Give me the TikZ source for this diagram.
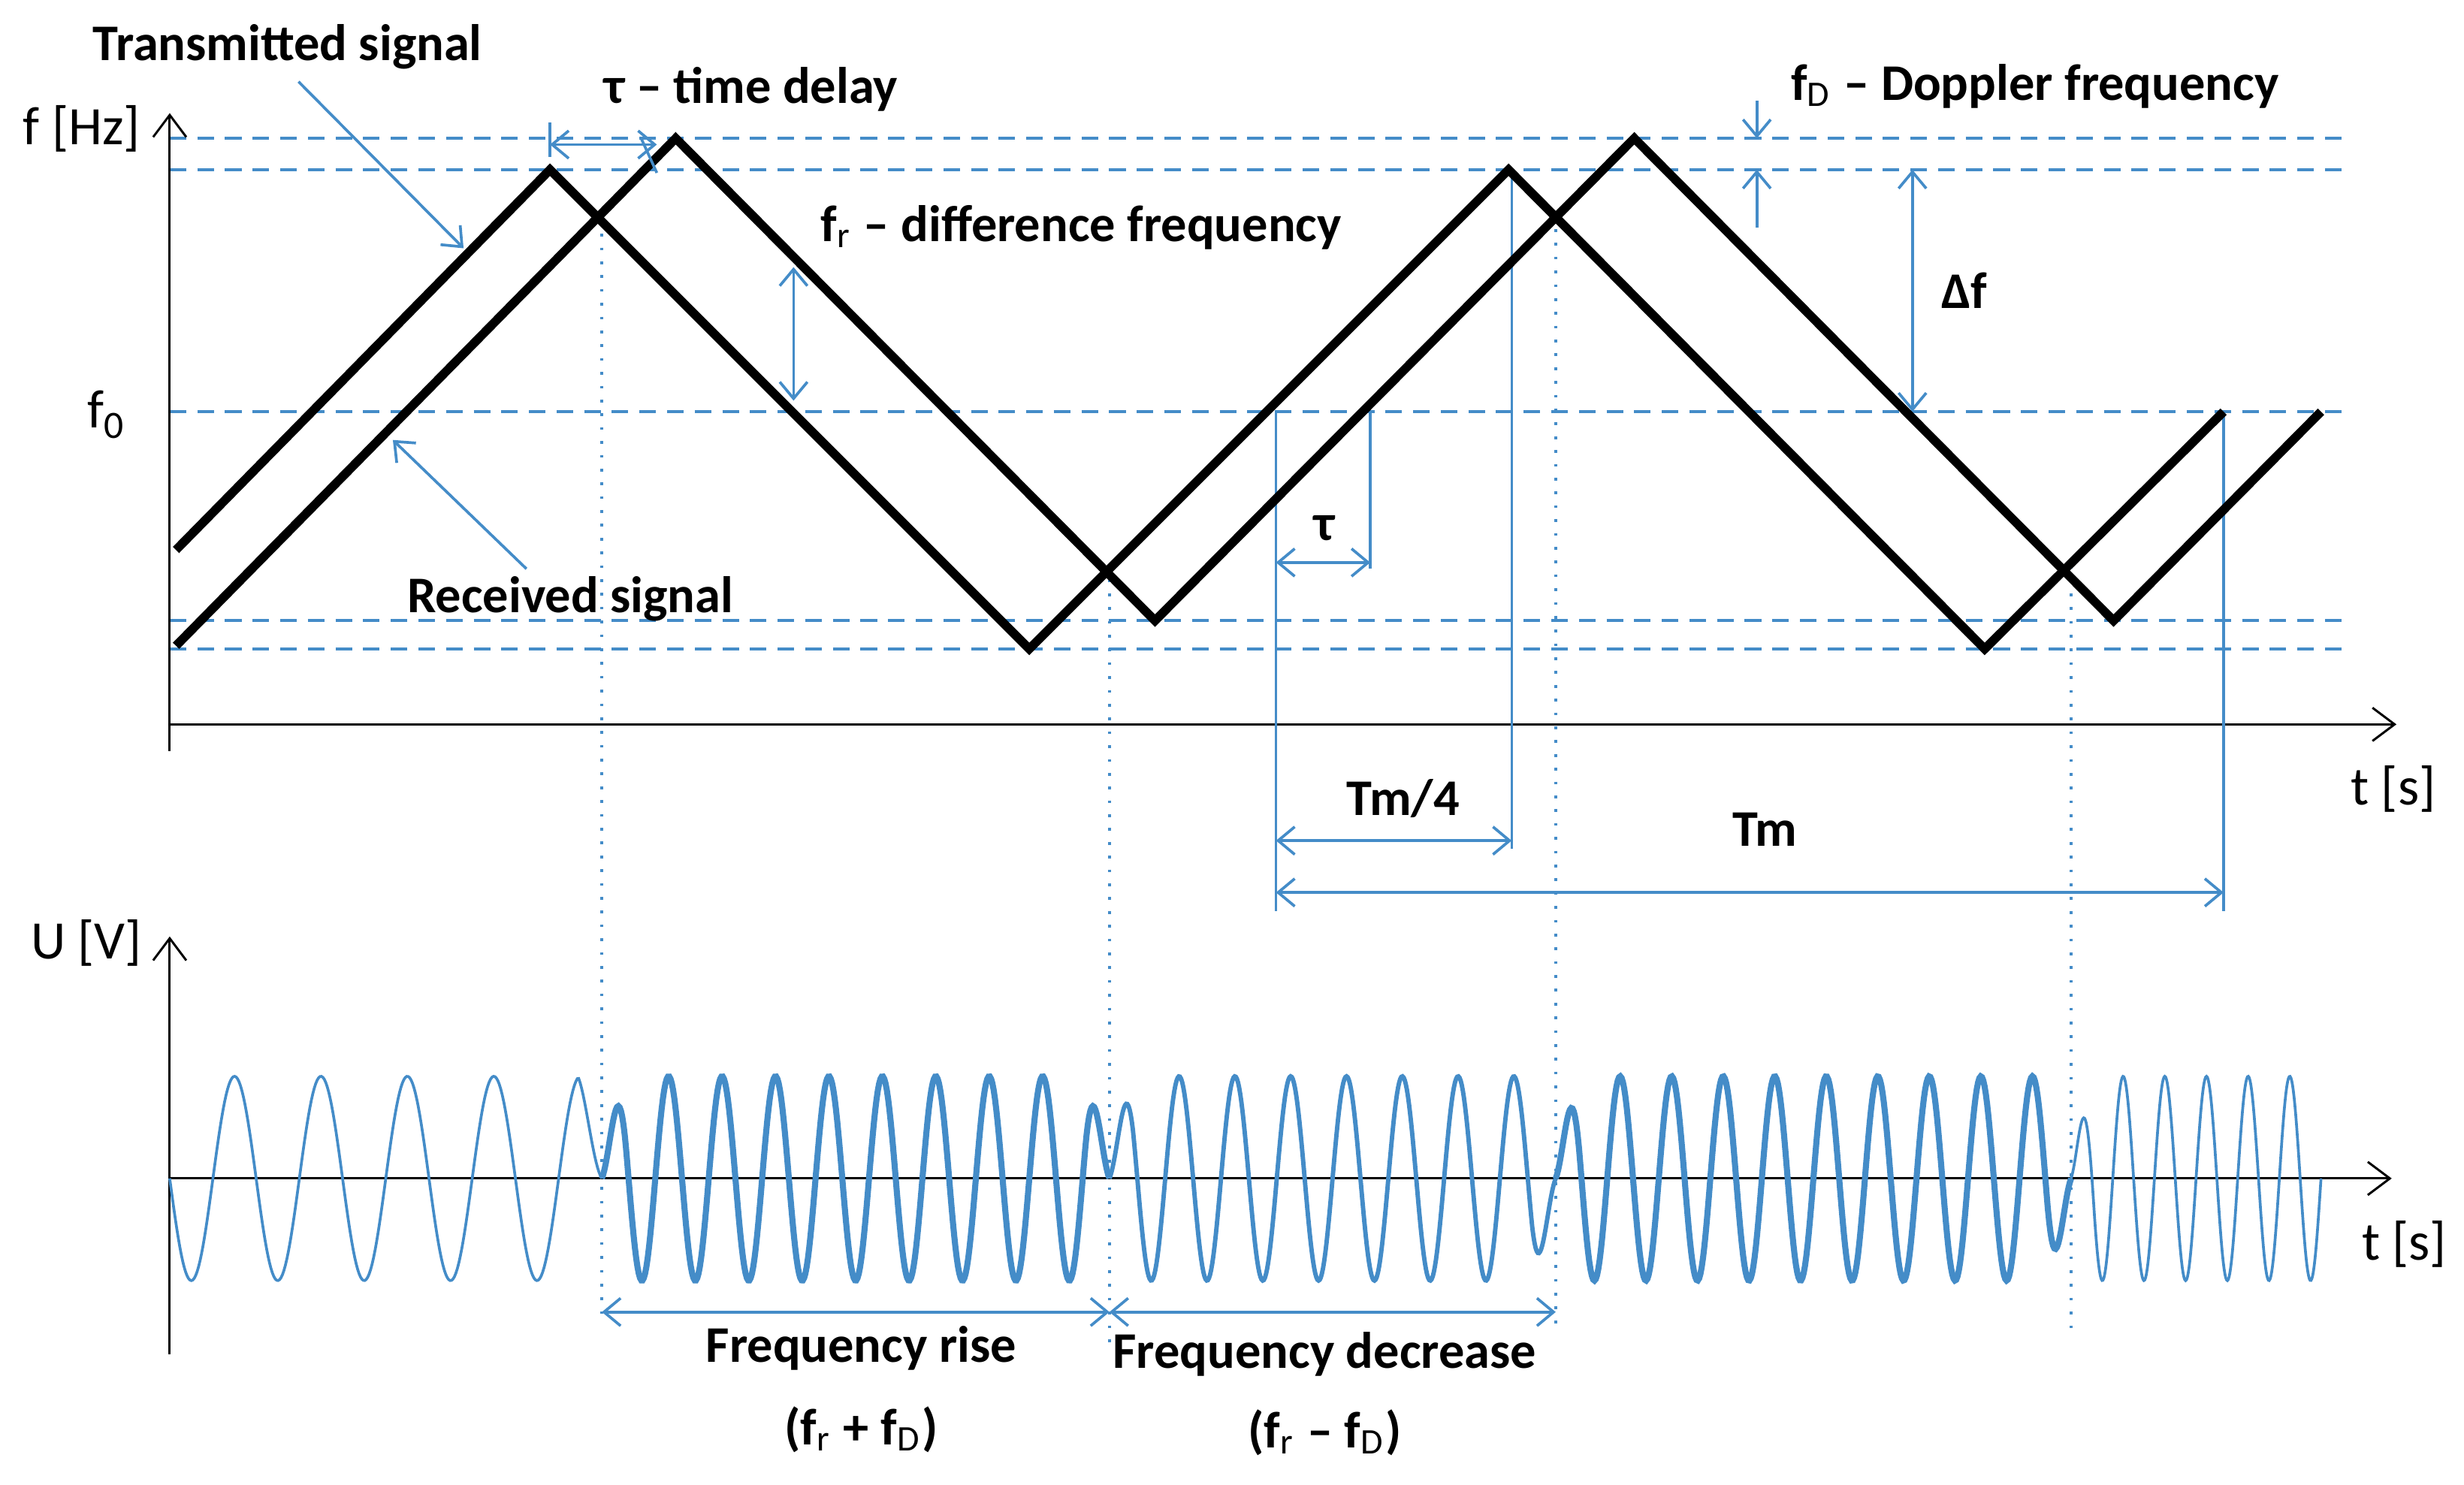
\documentclass[tikz,border=0pt]{standalone}
\usepackage{fontspec}
\setmainfont{Carlito}
\usetikzlibrary{arrows.meta}
\definecolor{bl}{RGB}{68,140,200}
\begin{document}
\begin{tikzpicture}[x=0.01cm,y=-0.01cm,
  lbl/.style={font=\fontsize{9.3}{11}\selectfont\bfseries},
  ax/.style={font=\fontsize{9.8}{11}\selectfont},
  axis/.style={line width=0.4pt,-{Straight Barb[length=4pt,width=6pt]}},
  sig/.style={line width=1.6pt,line join=miter},
  dsh/.style={bl,line width=0.5pt,dash pattern=on 3pt off 2pt},
  dot/.style={bl,dotted,line width=0.5pt},
  vl/.style={bl,line width=0.5pt},
  dim/.style={bl,line width=0.5pt,{Straight Barb[length=3pt,width=5pt]}-{Straight Barb[length=3pt,width=5pt]}},
  one/.style={bl,line width=0.5pt,-{Straight Barb[length=3pt,width=5pt]}},
  wave/.style={bl,line width=0.5pt},
  wavet/.style={bl,line width=1.1pt}]
\useasboundingbox (0,0) rectangle (1568,945);
% dashed levels
\foreach \y in {88,108,262,395,413} \draw[dsh] (108,\y) -- (1490,\y);
% axes
\draw[axis] (108,478) -- (108,72);
\draw[axis] (108,461) -- (1525,461);
\draw[axis] (108,862) -- (108,596);
\draw[axis] (108,750) -- (1522,750);
\node[ax] (fhz) at (52,82) {f [Hz]};
\node[ax] (f0) at (67,264) {f\raisebox{-0.4ex}{\scriptsize 0}};
\node[ax] (t1) at (1523,502) {t [s]};
\node[ax] (uv) at (55,600) {U [V]};
\node[ax] (t2) at (1530,792) {t [s]};
% vertical helper lines
\draw[dot] (383,140) -- (383,838);
\draw[dot] (706,360) -- (706,860);
\draw[dot] (990,137) -- (990,845);
\draw[dot] (1318,360) -- (1318,850);
\draw[vl] (812,262) -- (812,580);
\draw[vl] (872,262) -- (872,362);
\draw[vl] (962,108) -- (962,540);
\draw[vl] (1415,262) -- (1415,580);
% signals
\draw[sig] (112,350) -- (350,108) -- (655,413) -- (960,108) -- (1263,413) -- (1415,262);
\draw[sig] (112,411) -- (430,88) -- (735,395) -- (1040,88) -- (1345,395) -- (1477,262);
% labels and arrows
\node[lbl] (tx) at (183,30) {Transmitted signal};
\coordinate (txa) at (190,52); \coordinate (txb) at (295,158);
\draw[one] (txa) -- (txb);
\node[lbl] (rx) at (363,381) {Received signal};
\coordinate (rxa) at (335,362); \coordinate (rxb) at (250,280);
\draw[one] (rxa) -- (rxb);
\node[lbl] (td) at (478,57) {τ – time delay};
\coordinate (tda) at (350,92); \coordinate (tdb) at (418,92);
\draw[dim] (tda) -- (tdb);
\draw[vl] (350,78) -- (350,100);
\draw[vl] (408,88) -- (418,110);
\node[lbl] (fr) at (688,145) {f$_\mathrm{r}$ – difference frequency};
\coordinate (fra) at (505,170); \coordinate (frb) at (505,255);
\draw[dim] (fra) -- (frb);
\node[lbl] (fd) at (1295,55) {f$_\mathrm{D}$ – Doppler frequency};
\coordinate (fda) at (1118,64); \coordinate (fdb) at (1118,88);
\coordinate (fdc) at (1118,145); \coordinate (fdd) at (1118,108);
\draw[one] (fda) -- (fdb);
\draw[one] (fdc) -- (fdd);
\node[lbl] (df) at (1250,185) {Δf};
\coordinate (dfa) at (1217,108); \coordinate (dfb) at (1217,262);
\draw[dim] (dfa) -- (dfb);
\node[lbl] (tau) at (843,336) {τ};
\coordinate (ta) at (812,358); \coordinate (tb) at (872,358);
\draw[dim] (ta) -- (tb);
\node[lbl] (tm4) at (893,508) {Tm/4};
\coordinate (m4a) at (812,535); \coordinate (m4b) at (962,535);
\draw[dim] (m4a) -- (m4b);
\node[lbl] (tm) at (1123,528) {Tm};
\coordinate (ma) at (812,568); \coordinate (mb) at (1415,568);
\draw[dim] (ma) -- (mb);
% waveforms
\draw[wave] plot[domain=108:383,samples=300] (\x,{750+65*sin(6.5455*(\x-108))*(1-0.8*max(0,1-abs(\x-383)/15))});
\draw[wavet] plot[domain=383:706,samples=400] (\x,{750-65*sin(10.588*(\x-383))*(1-0.8*max(0,1-abs(\x-383)/15))*(1-0.8*max(0,1-abs(\x-706)/15))});
\draw[wave,line width=0.8pt] plot[domain=706:990,samples=400] (\x,{750-65*sin(10.141*(\x-706))*(1-0.8*max(0,1-abs(\x-706)/15))*(1-0.8*max(0,1-abs(\x-990)/15))});
\draw[wavet] plot[domain=990:1318,samples=400] (\x,{750-65*sin(10.976*(\x-990))*(1-0.8*max(0,1-abs(\x-990)/15))*(1-0.8*max(0,1-abs(\x-1318)/15))});
\draw[wave] plot[domain=1318:1477,samples=300] (\x,{750-65*sin(13.585*(\x-1318))*(1-0.8*max(0,1-abs(\x-1318)/15))});
% bottom labels
\coordinate (ra) at (383,835); \coordinate (rb) at (706,835); \coordinate (rc) at (990,835);
\draw[dim] (ra) -- (rb);
\draw[dim] (rb) -- (rc);
\node[lbl] (fri) at (548,858) {Frequency rise};
\node[lbl] (frs) at (548,910) {(f$_\mathrm{r}$ + f$_\mathrm{D}$)};
\node[lbl] (fde) at (843,862) {Frequency decrease};
\node[lbl] (fds) at (843,912) {(f$_\mathrm{r}$ – f$_\mathrm{D}$)};
\end{tikzpicture}
\end{document}
